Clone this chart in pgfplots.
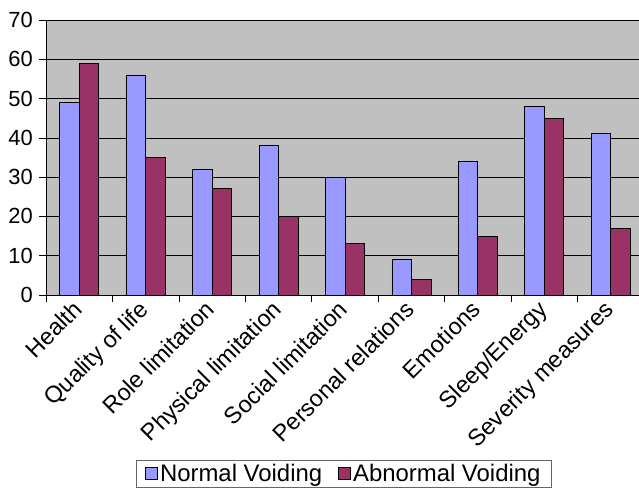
\documentclass[border=0pt]{standalone}
\usepackage{pgfplots}
\pgfplotsset{compat=1.18}
\usepackage{fontspec}
\setmainfont{Liberation Sans}
\definecolor{nv}{HTML}{9999FF}
\definecolor{av}{HTML}{993366}
\definecolor{bg}{HTML}{C0C0C0}
\begin{document}
\begin{tikzpicture}[x=1bp,y=1bp]
\useasboundingbox (0,0) rectangle (639,490);
\begin{axis}[
  at={(46bp,195bp)}, anchor=south west,
  scale only axis, width=598bp, height=275bp,
  xmin=-0.5, xmax=8.5, ymin=0, ymax=70,
  ybar, bar width=19.5bp,
  axis background/.style={fill=bg},
  ytick={0,10,...,70},
  ymajorgrids, grid style={black, line width=0.6pt},
  xtick={0,...,8},
  xticklabels={Health,Quality of life,Role limitation,Physical limitation,Social limitation,Personal relations,Emotions,Sleep/Energy,Severity measures},
  major x tick style={draw=none},
  minor xtick={-0.5,0.5,...,8.5},
  xtick pos=lower, ytick pos=left,
  tick align=outside,
  minor tick length=7bp, major tick length=7bp,
  tick style={black, line width=0.6pt},
  axis line style={black, line width=0.8pt},
  /pgf/number format/assume math mode=true,
  yticklabel style={font=\fontsize{22}{24}\selectfont, inner sep=0pt, xshift=-6bp},
  xticklabel style={xshift=-8bp, yshift=3bp, rotate=45, anchor=north east, inner sep=0pt, font=\fontsize{23.5}{26}\selectfont},
  legend style={at={(0.498,-0.6)}, anchor=north, legend columns=2, draw=black!60, line width=0.8pt, fill=white, font=\fontsize{24}{27}\selectfont, inner xsep=9bp, inner ysep=2bp, /tikz/every even column/.append style={column sep=14bp}},
  legend image code/.code={\draw[#1, line width=0.9pt] (1bp,-6bp) rectangle (13bp,6bp);},
  clip=false,
]
\addplot[fill=nv, draw=black, line width=0.9pt, bar shift=-9.75bp] coordinates {(0,49) (1,56) (2,32) (3,38) (4,30) (5,9) (6,34) (7,48) (8,41)};
\addplot[fill=av, draw=black, line width=0.9pt, bar shift=9.75bp] coordinates {(0,59) (1,35) (2,27) (3,20) (4,13) (5,4) (6,15) (7,45) (8,17)};
\legend{Normal Voiding, Abnormal Voiding}
\end{axis}
\end{tikzpicture}
\end{document}
